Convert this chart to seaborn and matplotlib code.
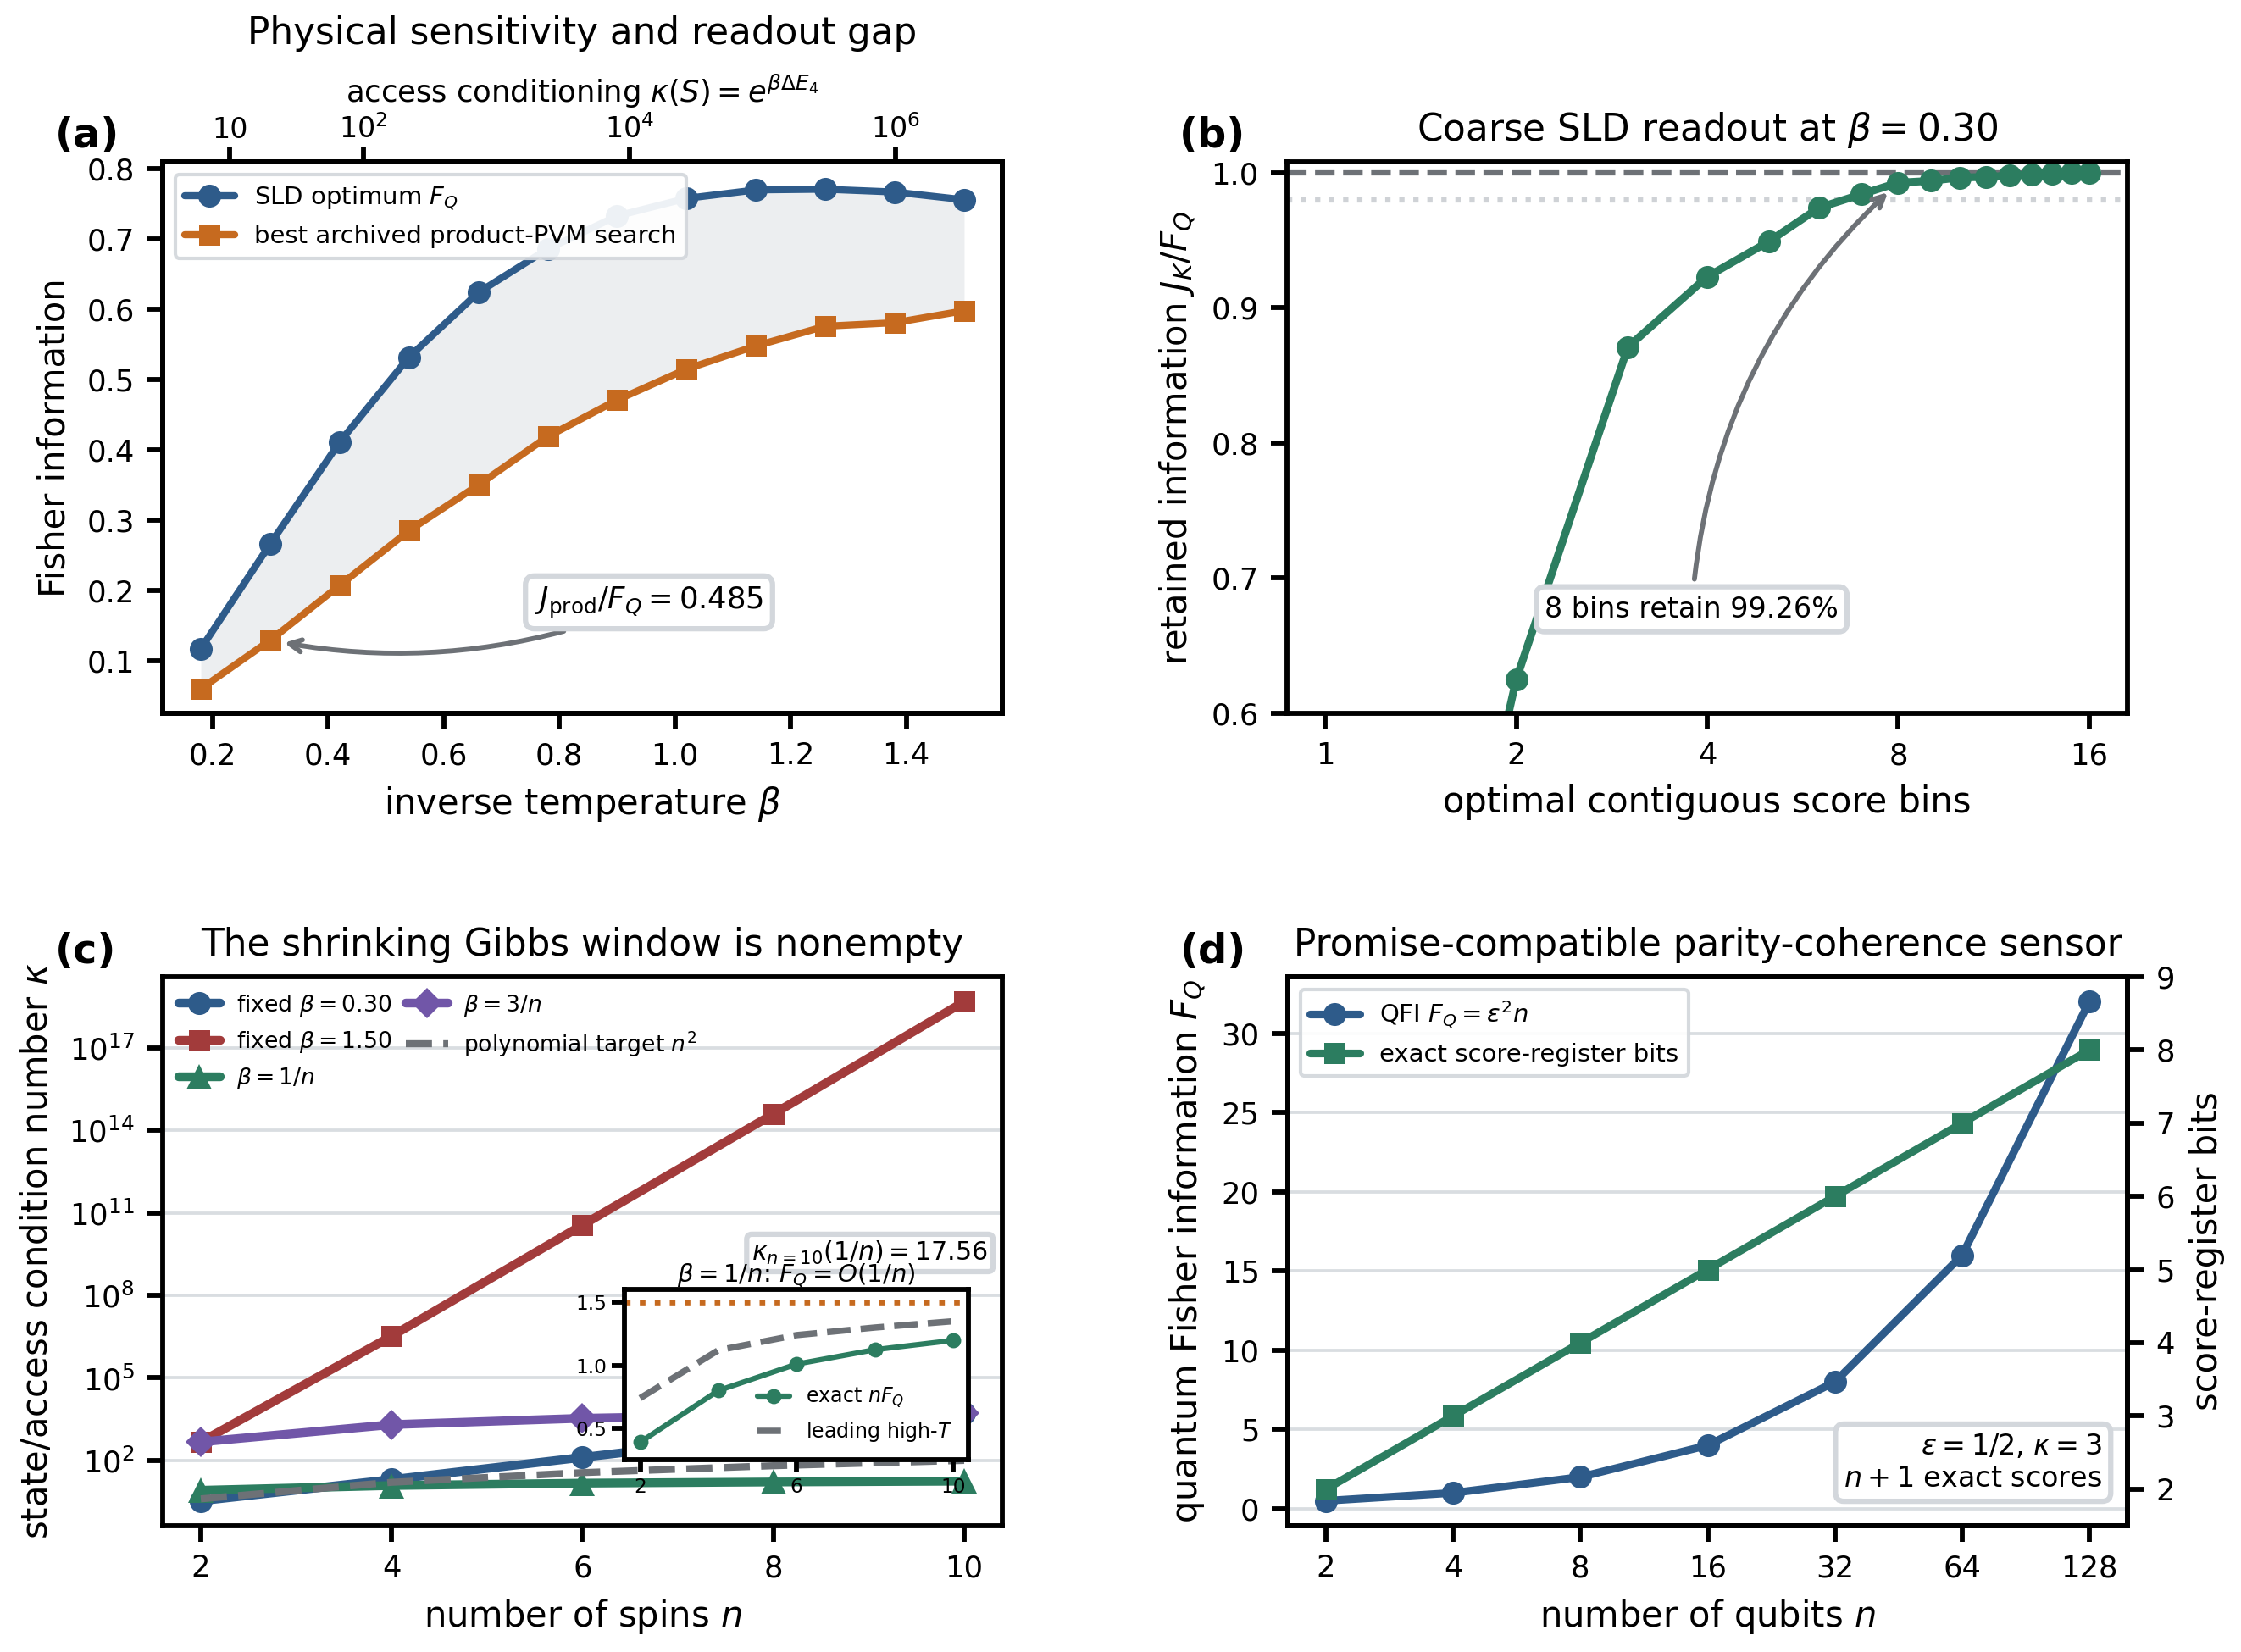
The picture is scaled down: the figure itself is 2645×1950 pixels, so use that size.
import numpy as np
import pandas as pd
import seaborn as sns
import matplotlib
matplotlib.use("Agg")
import matplotlib.pyplot as plt
from matplotlib.ticker import FixedLocator, NullLocator, FixedFormatter

# ---- panel (a): Fisher information vs inverse temperature
beta = [0.18, 0.30, 0.42, 0.54, 0.66, 0.78, 0.90, 1.02, 1.14, 1.26, 1.38, 1.50]
sld_fq = [0.117, 0.266, 0.411, 0.532, 0.624, 0.686, 0.733, 0.758, 0.770, 0.771, 0.767, 0.756]
prod_pvm = [0.060, 0.129, 0.207, 0.285, 0.350, 0.419, 0.471, 0.515, 0.548, 0.576, 0.581, 0.598]
delta_e4 = 10.0  # gap used for the top axis kappa(S) = exp(beta * dE_4)

# ---- panel (b): coarse SLD readout
bins = [1, 2, 3, 4, 5, 6, 7, 8, 9, 10, 11, 12, 13, 14, 15, 16]
retained = [0.0, 0.625, 0.871, 0.923, 0.949, 0.974, 0.984, 0.9926, 0.9939, 0.9964,
            0.9968, 0.9978, 0.9986, 0.9993, 0.9996, 1.0]

# ---- panel (c): condition numbers vs number of spins
spins = [2, 4, 6, 8, 10]
kappa_b030 = [3.4, 20.1, 129.0, 830.0, 5.4e3]
kappa_b150 = [4.7e2, 3.3e6, 3.6e10, 3.9e14, 4.7e18]
kappa_b1n = [8.2, 12.2, 14.9, 16.4, 17.56]
kappa_b3n = [4.7e2, 2.0e3, 3.4e3, 4.5e3, 5.4e3]
poly_target = [4, 16, 36, 64, 100]
# inset
inset_exact = [0.39, 0.80, 1.01, 1.124, 1.198]
inset_leading = [0.74, 1.12, 1.24, 1.30, 1.35]
inset_limit = 1.5

# ---- panel (d): parity-coherence sensor
qubits = [2, 4, 8, 16, 32, 64, 128]
qfi = [0.5, 1, 2, 4, 8, 16, 32]
score_bits = [2, 3, 4, 5, 6, 7, 8]

BLUE = "#2e5b8a"
ORANGE = "#c66a1f"
GREEN = "#2c7d60"
RED = "#a23b3b"
PURPLE = "#7156a8"
GREY = "#6d7176"
EDGE = "#d3d7dc"

sns.set_theme(style="ticks", rc={
    "axes.edgecolor": "black",
    "axes.linewidth": 1.4,
    "xtick.color": "black",
    "ytick.color": "black",
    "xtick.major.width": 1.4,
    "ytick.major.width": 1.4,
    "xtick.major.size": 4.5,
    "ytick.major.size": 4.5,
    "xtick.labelsize": 8.5,
    "ytick.labelsize": 8.5,
    "axes.labelsize": 10,
    "axes.titlesize": 10.5,
    "legend.fontsize": 7,
    "axes.labelcolor": "black",
    "text.color": "black",
    "grid.color": "#d9dde1",
    "grid.linewidth": 0.9,
})
plt.rcParams["font.family"] = ["DejaVu Sans"]

fig = plt.figure(figsize=(2645 / 300, 1950 / 300), dpi=300)
W, H = 2645, 1950


def rect(l, t, r, b):
    return [l / W, 1 - b / H, (r - l) / W, (b - t) / H]


ax_a = fig.add_axes(rect(192, 191, 1183, 842))
ax_b = fig.add_axes(rect(1519, 191, 2511, 842))
ax_c = fig.add_axes(rect(192, 1153, 1183, 1801))
ax_d = fig.add_axes(rect(1520, 1153, 2511, 1801))

legend_box = dict(frameon=True, fancybox=True, edgecolor=EDGE, framealpha=0.92)


def panel_label(ax, s):
    ax.text(-0.128, 1.01, s, transform=ax.transAxes, ha="left", va="bottom",
            fontsize=11.5, fontweight="bold")


# ===== (a)
df_a = pd.DataFrame({"beta": beta, "sld": sld_fq, "prod": prod_pvm})
ax_a.fill_between(df_a["beta"], df_a["prod"], df_a["sld"], color="#e9ebee", alpha=0.85, lw=0)
sns.lineplot(data=df_a, x="beta", y="sld", ax=ax_a, color=BLUE, marker="o", lw=2,
             markersize=6.5, markeredgewidth=0, label=r"SLD optimum $F_Q$")
sns.lineplot(data=df_a, x="beta", y="prod", ax=ax_a, color=ORANGE, marker="s", lw=2,
             markersize=6, markeredgewidth=0, label="best archived product-PVM search")
ax_a.set_xlabel(r"inverse temperature $\beta$")
ax_a.set_ylabel("Fisher information")
ax_a.set_yticks([0.1, 0.2, 0.3, 0.4, 0.5, 0.6, 0.7, 0.8])
ax_a.set_ylim(0.025, 0.81)
ax_a.set_xticks([0.2, 0.4, 0.6, 0.8, 1.0, 1.2, 1.4])
ax_a.legend(loc="upper left", **legend_box)
ax_a.annotate(r"$J_{\rm prod}/F_Q = 0.485$", xy=(0.30, 0.129), xytext=(0.955, 0.183),
              ha="center", va="center", fontsize=8.5,
              bbox=dict(boxstyle="round,pad=0.3", fc="white", ec=EDGE, lw=1.5),
              arrowprops=dict(arrowstyle="->", color=GREY, lw=1.4,
                              connectionstyle="arc3,rad=-0.15", shrinkB=4))
top = ax_a.twiny()
top.set_xscale("log")
lo, hi = ax_a.get_xlim()
top.set_xlim(np.exp(delta_e4 * lo), np.exp(delta_e4 * hi))
top.xaxis.set_major_locator(FixedLocator([10, 1e2, 1e4, 1e6]))
top.xaxis.set_major_formatter(FixedFormatter(["10", r"$10^2$", r"$10^4$", r"$10^6$"]))
top.xaxis.set_minor_locator(NullLocator())
top.tick_params(axis="x", labelsize=8, pad=1, length=4)
top.set_xlabel(r"access conditioning $\kappa(S) = e^{\beta \Delta E_4}$", fontsize=8.5,
               labelpad=3.5)
ax_a.set_title("Physical sensitivity and readout gap", pad=8)
panel_label(ax_a, "(a)")

# ===== (b)
df_b = pd.DataFrame({"bins": bins, "retained": retained})
ax_b.axhline(1.0, color=GREY, ls="--", lw=1.5)
ax_b.axhline(0.98, color="#cfd2d6", ls=":", lw=1.5)
sns.lineplot(data=df_b, x="bins", y="retained", ax=ax_b, color=GREEN, marker="o", lw=2.2,
             markersize=6.5, markeredgewidth=0)
ax_b.set_xscale("log", base=2)
ax_b.set_xticks([1, 2, 4, 8, 16])
ax_b.set_xticklabels(["1", "2", "4", "8", "16"])
ax_b.xaxis.set_minor_locator(NullLocator())
ax_b.set_ylim(0.6, 1.008)
ax_b.set_yticks([0.6, 0.7, 0.8, 0.9, 1.0])
ax_b.set_xlabel("optimal contiguous score bins")
ax_b.set_ylabel(r"retained information $J_K/F_Q$")
ax_b.set_title(r"Coarse SLD readout at $\beta = 0.30$")
ax_b.annotate("8 bins retain 99.26%", xy=(8, 0.9926), xytext=(3.78, 0.677),
              ha="center", va="center", fontsize=8,
              bbox=dict(boxstyle="round,pad=0.3", fc="white", ec=EDGE, lw=1.5),
              arrowprops=dict(arrowstyle="->", color=GREY, lw=1.4,
                              connectionstyle="arc3,rad=-0.2", shrinkB=4))
panel_label(ax_b, "(b)")

# ===== (c)
df_c = pd.DataFrame({"n": spins, "b030": kappa_b030, "b150": kappa_b150,
                     "b1n": kappa_b1n, "b3n": kappa_b3n, "poly": poly_target})
ax_c.set_yscale("log")
ax_c.yaxis.grid(True)
ax_c.set_axisbelow(True)
sns.lineplot(data=df_c, x="n", y="b030", ax=ax_c, color=BLUE, marker="o", lw=2.5,
             markersize=6.5, markeredgewidth=0, label=r"fixed $\beta = 0.30$")
sns.lineplot(data=df_c, x="n", y="b150", ax=ax_c, color=RED, marker="s", lw=2.5,
             markersize=6, markeredgewidth=0, label=r"fixed $\beta = 1.50$")
sns.lineplot(data=df_c, x="n", y="b1n", ax=ax_c, color=GREEN, marker="^", lw=2.5,
             markersize=7, markeredgewidth=0, label=r"$\beta = 1/n$")
sns.lineplot(data=df_c, x="n", y="b3n", ax=ax_c, color=PURPLE, marker="D", lw=2.5,
             markersize=6, markeredgewidth=0, label=r"$\beta = 3/n$")
sns.lineplot(data=df_c, x="n", y="poly", ax=ax_c, color=GREY, ls="--", lw=2.0,
             label=r"polynomial target $n^2$")
ax_c.set_yticks([1e2, 1e5, 1e8, 1e11, 1e14, 1e17])
ax_c.yaxis.set_minor_locator(NullLocator())
ax_c.set_xticks([2, 4, 6, 8, 10])
ax_c.set_xlabel(r"number of spins $n$")
ax_c.set_ylabel(r"state/access condition number $\kappa$")
ax_c.set_title("The shrinking Gibbs window is nonempty")
ax_c.legend(loc="upper left", ncol=2, frameon=False, columnspacing=0.65,
            handletextpad=0.7, handlelength=1.85, borderaxespad=0.3, fontsize=6.4)
ax_c.text(0.983, 0.497, r"$\kappa_{n=10}(1/n) = 17.56$", transform=ax_c.transAxes,
          ha="right", va="center", fontsize=7.2,
          bbox=dict(boxstyle="round,pad=0.2", fc="white", ec=EDGE, lw=1.5))
ins = ax_c.inset_axes([0.55, 0.12, 0.41, 0.31])
df_i = pd.DataFrame({"n": spins, "exact": inset_exact, "leading": inset_leading})
ins.axhline(inset_limit, color=ORANGE, ls=":", lw=1.6)
sns.lineplot(data=df_i, x="n", y="leading", ax=ins, color=GREY, ls="--", lw=1.8,
             label=r"leading high-$T$")
sns.lineplot(data=df_i, x="n", y="exact", ax=ins, color=GREEN, marker="o", lw=1.5,
             markersize=4.3, markeredgewidth=0, label=r"exact $nF_Q$")
h, l = ins.get_legend_handles_labels()
ins.legend(h[::-1], l[::-1], loc="lower right", frameon=False, fontsize=5.7,
           handlelength=1.6, borderaxespad=0.4)
ins.set_ylim(0.25, 1.6)
ins.set_xticks([2, 6, 10])
ins.set_yticks([0.5, 1.0, 1.5])
ins.tick_params(labelsize=5.6, length=3.5, width=1.4, pad=1.5)
ins.set_xlabel("")
ins.set_ylabel("")
ins.set_title(r"$\beta = 1/n$: $F_Q = O(1/n)$", fontsize=7, pad=2)
panel_label(ax_c, "(c)")

# ===== (d)
df_d = pd.DataFrame({"n": qubits, "qfi": qfi, "bits": score_bits})
ax_d.set_xscale("log", base=2)
ax_d.yaxis.grid(True)
ax_d.set_axisbelow(True)
sns.lineplot(data=df_d, x="n", y="qfi", ax=ax_d, color=BLUE, marker="o", lw=2.2,
             markersize=6.5, markeredgewidth=0, label=r"QFI $F_Q = \varepsilon^2 n$", legend=False)
ax_r = ax_d.twinx()
sns.lineplot(data=df_d, x="n", y="bits", ax=ax_r, color=GREEN, marker="s", lw=2.2,
             markersize=6, markeredgewidth=0, label="exact score-register bits", legend=False)
ax_r.set_ylim(1.5, 9)
ax_r.set_ylabel("score-register bits")
ax_d.set_xticks(qubits)
ax_d.set_xticklabels([str(q) for q in qubits])
ax_d.xaxis.set_minor_locator(NullLocator())
ax_d.set_yticks([0, 5, 10, 15, 20, 25, 30])
ax_d.set_xlabel(r"number of qubits $n$")
ax_d.set_ylabel(r"quantum Fisher information $F_Q$")
ax_d.set_title("Promise-compatible parity-coherence sensor")
h1, l1 = ax_d.get_legend_handles_labels()
h2, l2 = ax_r.get_legend_handles_labels()
ax_r.legend(h1 + h2, l1 + l2, loc="upper left", **legend_box)
ax_r.text(0.97, 0.06, "$\\varepsilon = 1/2$, $\\kappa = 3$\n$n + 1$ exact scores",
          transform=ax_r.transAxes, ha="right", va="bottom", multialignment="right",
          fontsize=8, bbox=dict(boxstyle="round,pad=0.3", fc="white", ec=EDGE, lw=1.5))
panel_label(ax_d, "(d)")

fig.savefig("out.png", dpi=300)
